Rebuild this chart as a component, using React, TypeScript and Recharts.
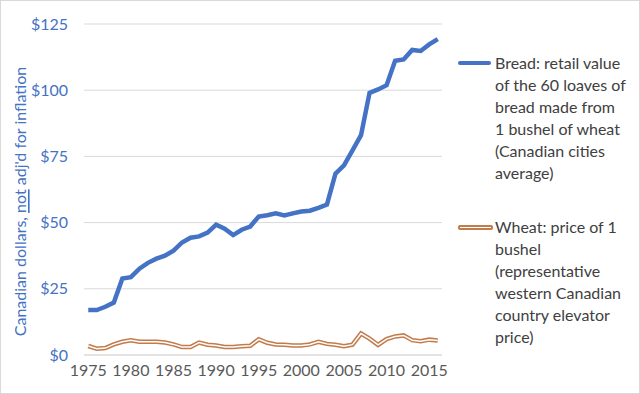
import React from "react";
import { LineChart, Line, XAxis, YAxis, CartesianGrid, Label } from "recharts";

const years = [
  1975, 1976, 1977, 1978, 1979, 1980, 1981, 1982, 1983, 1984, 1985, 1986, 1987, 1988,
  1989, 1990, 1991, 1992, 1993, 1994, 1995, 1996, 1997, 1998, 1999, 2000, 2001, 2002,
  2003, 2004, 2005, 2006, 2007, 2008, 2009, 2010, 2011, 2012, 2013, 2014, 2015, 2016,
];

const bread = [
  17.0, 17.0, 18.2, 19.8, 28.9, 29.4, 32.6, 34.8, 36.4, 37.5, 39.4, 42.5, 44.3, 44.8,
  46.2, 49.2, 47.7, 45.3, 47.3, 48.5, 52.3, 52.8, 53.5, 52.7, 53.5, 54.2, 54.5, 55.6,
  56.8, 68.5, 71.6, 77.3, 83.0, 99.0, 100.3, 101.9, 111.1, 111.6, 115.2, 114.8, 117.3, 119.3,
];

const wheat = [
  3.4, 2.4, 2.6, 4.0, 5.0, 5.6, 5.0, 5.0, 5.0, 4.7, 4.0, 3.0, 3.0, 4.7,
  3.9, 3.6, 3.0, 3.0, 3.3, 3.5, 5.9, 4.6, 4.0, 3.9, 3.6, 3.6, 4.0, 5.0,
  4.2, 3.9, 3.3, 3.9, 8.1, 6.2, 3.8, 6.0, 7.0, 7.4, 5.6, 5.2, 5.8, 5.5,
];

const yTicks = [0, 25, 50, 75, 100, 125];
const xTicks = [1975, 1980, 1985, 1990, 1995, 2000, 2005, 2010, 2015];

const breadLabel = [
  "Bread: retail value",
  "of the 60 loaves of",
  "bread made from",
  "1 bushel of wheat",
  "(Canadian cities",
  "average)",
];
const wheatLabel = [
  "Wheat: price of 1",
  "bushel",
  "(representative",
  "western Canadian",
  "country elevator",
  "price)",
];

const data = years.map((year, i) => ({ year, bread: bread[i], wheat: wheat[i] }));

const BLUE = "#4472C4";
const ORANGE = "#C27B4B";
const FONT = "Lato, 'Open Sans', sans-serif";

function LegendBox() {
  const row = (lines: string[], swatch: React.ReactNode) => (
    <div style={{ display: "flex", alignItems: "flex-start" }}>
      <div style={{ width: 37, height: 22, display: "flex", alignItems: "center", flex: "none" }}>
        {swatch}
      </div>
      <div>
        {lines.map((l) => (
          <div key={l} style={{ lineHeight: "22px", whiteSpace: "nowrap" }}>{l}</div>
        ))}
      </div>
    </div>
  );
  return (
    <div
      style={{
        position: "absolute",
        left: 457,
        top: 51,
        fontFamily: FONT,
        fontSize: 16,
        color: "#404040",
      }}
    >
      {row(breadLabel, <div style={{ width: 33, height: 4, background: BLUE, borderRadius: 2 }} />)}
      <div style={{ height: 32 }} />
      {row(
        wheatLabel,
        <div style={{ width: 31, height: 1, background: "#fff", border: `2px solid ${ORANGE}`, borderRadius: 2 }} />
      )}
    </div>
  );
}

function YTitle(props: any) {
  const vb = props.viewBox || {};
  const cy = vb.y + vb.height / 2 + 12;
  const cx = 18;
  return (
    <text
      x={cx}
      y={cy}
      transform={`rotate(-90 ${cx} ${cy})`}
      textAnchor="middle"
      dominantBaseline="central"
      fill={BLUE}
      fontSize={16}
      fontFamily={FONT}
    >
      <tspan>Canadian dollars, </tspan>
      <tspan style={{ textDecoration: "underline" }}>not</tspan>
      <tspan> adj'd for inflation</tspan>
    </text>
  );
}

export default function App() {
  return (
    <div
      style={{
        position: "fixed",
        left: 0,
        top: 0,
        width: 638,
        height: 392,
        border: "1px solid #d9d9d9",
        background: "#fff",
      }}
    >
      <LineChart
        width={638}
        height={392}
        data={data}
        margin={{ top: 23, right: 197, bottom: 8, left: 33 }}
      >
        <CartesianGrid vertical={false} stroke="#d9d9d9" />
        <XAxis
          dataKey="year"
          type="number"
          domain={[1974.5, 2016.5]}
          ticks={xTicks}
          tickLine={false}
          axisLine={{ stroke: "#d9d9d9" }}
          tickMargin={4}
          height={30}
          tick={{ fill: "#595959", fontSize: 16, fontFamily: FONT }}
        />
        <YAxis
          domain={[0, 125]}
          ticks={yTicks}
          tickLine={false}
          axisLine={false}
          width={50}
          tickMargin={10}
          tickFormatter={(v: number) => `$${v}`}
          tick={{ fill: BLUE, fontSize: 16, fontFamily: FONT }}
        >
          <Label content={YTitle} />
        </YAxis>
        <Line
          dataKey="bread"
          stroke={BLUE}
          strokeWidth={4.5}
          dot={false}
          isAnimationActive={false}
        />
        <Line
          dataKey="wheat"
          stroke={ORANGE}
          strokeWidth={4.5}
          dot={false}
          isAnimationActive={false}
        />
        <Line
          dataKey="wheat"
          stroke="#ffffff"
          strokeWidth={1.5}
          dot={false}
          isAnimationActive={false}
        />
      </LineChart>
      <LegendBox />
    </div>
  );
}
